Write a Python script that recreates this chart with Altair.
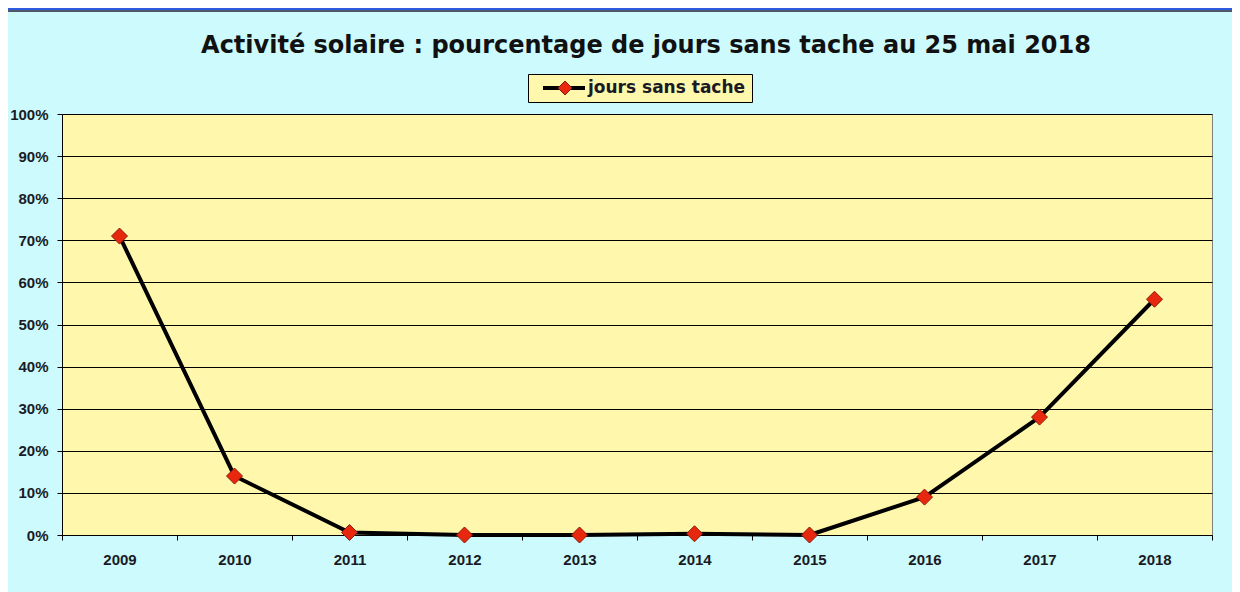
import altair as alt
import pandas as pd

# ---- data ----
years = [2009, 2010, 2011, 2012, 2013, 2014, 2015, 2016, 2017, 2018]
pct = [71, 14, 0.6, 0, 0, 0.3, 0, 9, 28, 56]
series = ["jours sans tache"] * len(years)
y_ticks = [0, 10, 20, 30, 40, 50, 60, 70, 80, 90, 100]
x_bounds = [2008.5, 2009.5, 2010.5, 2011.5, 2012.5, 2013.5, 2014.5, 2015.5, 2016.5, 2017.5, 2018.5]
title_text = "Activité solaire : pourcentage de jours sans tache au 25 mai 2018"

df = pd.DataFrame({"annee": years, "pct": pct, "serie": series})
strip_df = pd.DataFrame({"k": [0]})

FONT = "Liberation Sans"
LFONT = "DejaVu Sans"
TXT = "#1a1a26"
YELLOW = "#FFF8AC"
CYAN = "#CCFAFD"
RED = "#E8280E"
DARKRED = "#8B1A0A"

xscale = alt.Scale(domain=[2008.5, 2018.5], nice=False, zero=False)
yscale = alt.Scale(domain=[0, 100], nice=False, zero=True)

yaxis = alt.Axis(
    values=y_ticks, labelExpr="datum.value + '%'", grid=True, gridColor="#000000",
    gridWidth=1, domainColor="#000000", domainWidth=1, tickColor="#000000", tickSize=5,
    labelPadding=9, labelFont=FONT, labelFontSize=15, labelFontWeight="bold",
    labelColor=TXT, title=None,
)

base = alt.Chart(df)

line = base.mark_line(strokeWidth=4, interpolate="linear", strokeJoin="round").encode(
    x=alt.X("annee:Q", scale=xscale,
            axis=alt.Axis(values=years, format="d", ticks=False, grid=False,
                          domainColor="#000000", labelPadding=17, labelFont=FONT,
                          labelFontSize=15, labelFontWeight="bold", labelColor=TXT,
                          title=None, orient="bottom")),
    y=alt.Y("pct:Q", scale=yscale, axis=yaxis),
    stroke=alt.Stroke("serie:N", scale=alt.Scale(range=["#000000"]),
                      legend=alt.Legend(orient="none", legendX=466, legendY=-40,
                                        padding=6, fillColor=YELLOW, strokeColor="#000000",
                                        symbolType="stroke", symbolSize=1764,
                                        symbolStrokeWidth=4, symbolOffset=7,
                                        clipHeight=16,
                                        labelExpr="datum.label + '\u2002\u2002'",
                                        labelFont=LFONT, labelFontSize=17,
                                        labelFontWeight="bold", labelColor=TXT,
                                        labelOffset=1, title=None, zindex=0)),
)

points = base.mark_point(shape="diamond", filled=True, size=256, stroke=DARKRED,
                         strokeWidth=1, opacity=1).encode(
    x=alt.X("annee:Q", scale=xscale,
            axis=alt.Axis(values=x_bounds, labels=False, ticks=True, tickSize=5,
                          tickColor="#000000", domain=False, grid=False, title=None,
                          orient="bottom")),
    y=alt.Y("pct:Q", scale=yscale, axis=yaxis),
    fill=alt.Fill("serie:N", scale=alt.Scale(range=[RED]),
                  legend=alt.Legend(orient="none", legendX=488.5, legendY=-40,
                                    padding=6, symbolType="diamond", symbolSize=196,
                                    symbolStrokeColor=DARKRED, symbolStrokeWidth=1,
                                    symbolFillColor=RED, clipHeight=16,
                                    labelExpr="''",
                                    labelFont=LFONT, labelFontSize=17,
                                    labelFontWeight="bold",
                                    title=None, zindex=2)),
)

strip_blue = alt.Chart(strip_df).mark_rule(color="#2E5BE0", strokeWidth=2).encode(
    x=alt.value(-54), x2=alt.value(1170), y=alt.value(-105))
strip_grey = alt.Chart(strip_df).mark_rule(color="#4E5866", strokeWidth=2).encode(
    x=alt.value(-54), x2=alt.value(1170), y=alt.value(-103))

chart = alt.layer(line, points, strip_blue, strip_grey).resolve_axis(
    x="independent"
).properties(
    width=1150, height=421,
    autosize=alt.AutoSizeParams(type="none"),
    padding={"left": 54, "top": 106, "right": 20, "bottom": 57},
    background=CYAN,
    title=alt.TitleParams(title_text, font=LFONT, fontSize=24, fontWeight="bold",
                          color="#111111", anchor="middle", offset=0,
                          baseline="alphabetic", dy=69, dx=9),
).configure_view(fill=YELLOW, stroke="#808080", strokeWidth=1)

chart.save("out.html", embed_options={"renderer": "svg", "actions": False})
